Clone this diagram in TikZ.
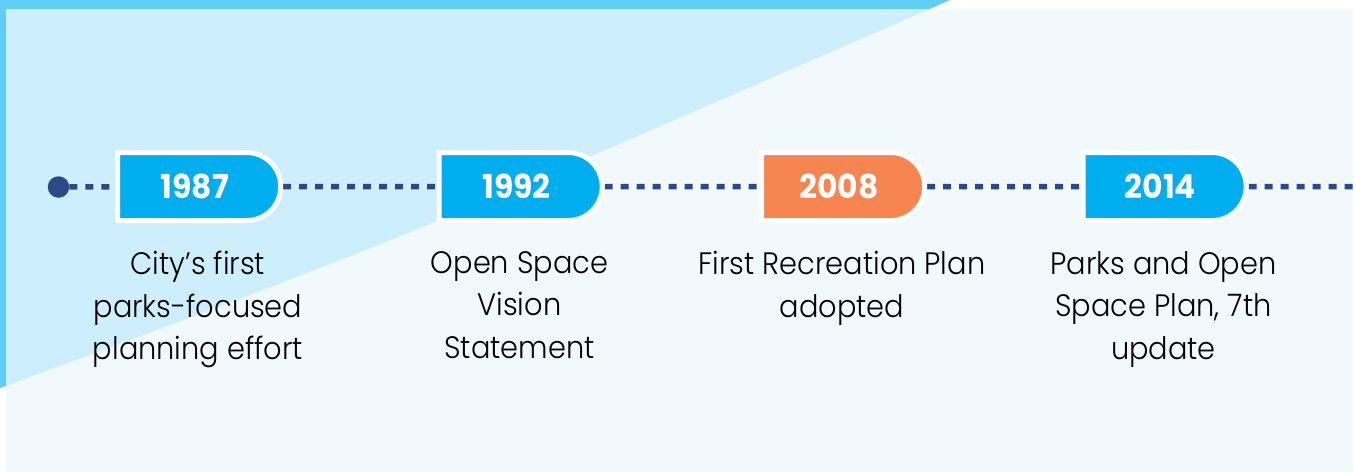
\documentclass[tikz,border=0pt]{standalone}
\usepackage{fontspec}
\setmainfont{Poppins}
\newfontfamily\yearfont[FakeStretch=0.95]{Poppins}
\newfontfamily\capfont[FakeStretch=0.93]{Poppins Light}
\usetikzlibrary{positioning,shapes.misc,backgrounds}
\definecolor{band}{HTML}{5FCDF5}
\definecolor{skylight}{HTML}{CDEEFD}
\definecolor{pale}{HTML}{F1F9FD}
\definecolor{pillblue}{HTML}{00AEEF}
\definecolor{pillorange}{HTML}{F6854F}
\definecolor{navy}{HTML}{2C4A87}

\begin{document}
\begin{tikzpicture}[x=1pt,y=-1pt,
    pill/.style={rounded rectangle, rounded rectangle left arc=none, draw=white,
      line width=5pt, minimum width=163pt, minimum height=68pt, inner sep=0pt,
      text=white, font=\yearfont\bfseries\fontsize{33}{33}\selectfont},
    caption/.style={align=center, inner sep=0pt, font=\capfont\fontsize{31}{42.5}\selectfont},
    timeline/.style={draw=navy, line width=5.5pt, dash pattern=on 8pt off 8pt}]
  \useasboundingbox (0,0) rectangle (1355,472);
  \node[circle, fill=navy, minimum size=21.5pt, inner sep=0pt] (start) at (58.5,187) {};
  \foreach \x/\yr/\col/\txt in {198/1987/pillblue/{City’s first\\parks-focused\\planning effort},
      519.5/1992/pillblue/{Open Space\\Vision\\Statement},
      842/2008/pillorange/{First Recreation Plan\\adopted},
      1163.5/2014/pillblue/{Parks and Open\\Space Plan, 7th\\update}} {
    \node[pill, fill=\col] (y\yr) at (\x,186.5) {\yr\kern6pt};
    \node[caption, below=64.5pt of y\yr.center] (t\yr) {\txt};
  }
  \coordinate (end) at (1353,186.5);
  % backdrop and dotted timeline
  \begin{scope}[on background layer]
    \fill[white] (0,0) rectangle (1355,472);
    \fill[band] (0,0) -- (0,388) .. controls (400,240) .. (950,0) -- cycle;
    \fill[pale] (6,9) rectangle (1353,472);
    \clip (6,9) rectangle (1353,472);
    \fill[skylight] (0,0) -- (0,388) .. controls (400,240) .. (950,0) -- cycle;
    \foreach \a/\b in {start/y1987,y1987/y1992,y1992/y2008,y2008/y2014,y2014/end}
      \draw[timeline] (\a) -- (\b);
  \end{scope}
\end{tikzpicture}
\end{document}
